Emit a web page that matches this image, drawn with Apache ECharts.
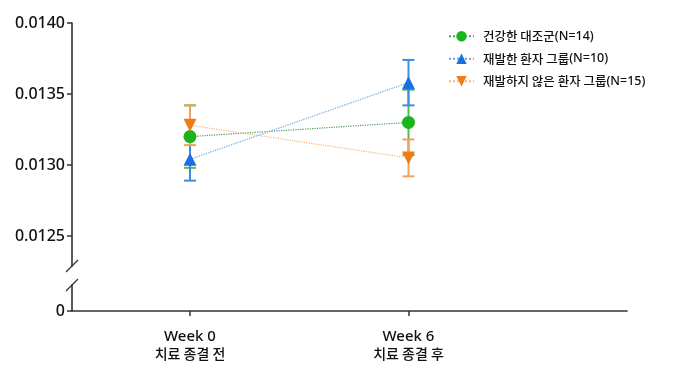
<!DOCTYPE html>
<html>
<head>
<meta charset="utf-8">
<script src="https://cdn.jsdelivr.net/npm/echarts@6/dist/echarts.min.js"></script>
<style>html,body{margin:0;padding:0;background:#fff}#c{width:680px;height:370px}</style>
</head>
<body>
<div id="c"></div>
<script>
// ---- data ----
const weekLabels = ['Week 0', 'Week 6'];
const phaseLabels = ['치료 종결 전', '치료 종결 후'];
const seriesNames = ['건강한 대조군(N=14)', '재발한 환자 그룹(N=10)', '재발하지 않은 환자 그룹(N=15)'];
const healthyMean = [0.01320, 0.01330];
const healthyErr = [0.00022, 0.00023];
const relapseMean = [0.01304, 0.01358];
const relapseErr = [0.00015, 0.00016];
const nonRelapseMean = [0.01328, 0.01305];
const nonRelapseErr = [0.00014, 0.00013];
const yTicksUpper = [0.0125, 0.0130, 0.0135, 0.0140];
const yTicksLower = [0];

// ---- layout / style ----
const FONT = '"Noto Sans", "Noto Sans CJK KR", sans-serif';
const KFONT = '"Noto Sans CJK KR", sans-serif';
const GL = 72, GR = 53;
const TOP_A = 23, BOT_A = 266, TOP_B = 285, BOT_B = 311;
const Y_MAX = 0.0140;
const PX_PER_UNIT = 142000; // px per 1.0 in y (71 px per 0.0005)
const Y_MIN_A = Y_MAX - (BOT_A - TOP_A) / PX_PER_UNIT;
const X_MIN = -0.54, X_MAX = 2.0;
const AXIS_COLOR = '#333';
const TEXT_COLOR = '#111';

const groups = [
  {name: seriesNames[0], mean: healthyMean, err: healthyErr, symbol: 'circle', rot: 0, size: 13,
   mark: '#1cb31c', bar: '#52bd52', line: '#4f9a66'},
  {name: seriesNames[1], mean: relapseMean, err: relapseErr, symbol: 'triangle', rot: 0, size: 13,
   mark: '#1a6fe3', bar: '#3d8ede', line: '#6aa6e0'},
  {name: seriesNames[2], mean: nonRelapseMean, err: nonRelapseErr, symbol: 'triangle', rot: 180, size: 13,
   mark: '#f07c18', bar: '#eba55a', line: '#f0b782'}
];

function renderErr(params, api) {
  const x = api.value(0), m = api.value(1), e = api.value(2);
  const top = api.coord([x, m + e]);
  const bot = api.coord([x, m - e]);
  const hw = 6;
  const color = api.visual('color');
  const st = {stroke: color, lineWidth: 2};
  return {type: 'group', children: [
    {type: 'line', shape: {x1: top[0], y1: top[1], x2: bot[0], y2: bot[1]}, style: st},
    {type: 'line', shape: {x1: top[0] - hw, y1: top[1], x2: top[0] + hw, y2: top[1]}, style: st},
    {type: 'line', shape: {x1: bot[0] - hw, y1: bot[1], x2: bot[0] + hw, y2: bot[1]}, style: st}
  ]};
}

const series = [];
groups.forEach((g, gi) => {
  series.push({
    name: g.name + ' err', type: 'custom', xAxisIndex: 0, yAxisIndex: 0,
    renderItem: renderErr, itemStyle: {color: g.bar}, z: 2 + gi,
    encode: {x: 0, y: 1},
    data: g.mean.map((m, i) => [i, m, g.err[i]])
  });
});
groups.forEach((g, gi) => {
  series.push({
    name: g.name, type: 'line', xAxisIndex: 0, yAxisIndex: 0,
    symbol: g.symbol, symbolRotate: g.rot, symbolSize: g.size,
    itemStyle: {color: g.mark}, lineStyle: {color: g.line, width: 1.2, type: 'dotted'},
    z: 10 + gi,
    data: g.mean.map((m, i) => [i, m])
  });
});

function legendFmt(name) {
  const i = name.indexOf('(');
  return '{k|' + name.slice(0, i) + '}{n|' + name.slice(i) + '}';
}

const chart = echarts.init(document.getElementById('c'), null, {renderer: 'canvas'});
const option = {
  animation: false,
  textStyle: {fontFamily: FONT},
  grid: [
    {left: GL, right: GR, top: TOP_A, height: BOT_A - TOP_A},
    {left: GL, right: GR, top: TOP_B, height: BOT_B - TOP_B}
  ],
  xAxis: [
    {gridIndex: 0, type: 'value', min: X_MIN, max: X_MAX, show: false},
    {gridIndex: 1, type: 'value', min: X_MIN, max: X_MAX,
     axisLine: {show: true, onZero: false, lineStyle: {color: AXIS_COLOR, width: 1.6}},
     axisTick: {show: true, length: 5, customValues: [0, 1], lineStyle: {color: AXIS_COLOR, width: 1.5}},
     splitLine: {show: false},
     axisLabel: {customValues: [0, 1], margin: 17, lineHeight: 17,
       formatter: v => '{a|' + weekLabels[Math.round(v)] + '}\n{b|' + phaseLabels[Math.round(v)] + '}',
       rich: {a: {fontSize: 15, color: TEXT_COLOR, fontFamily: FONT, fontWeight: 500, lineHeight: 17},
              b: {fontSize: 14, color: TEXT_COLOR, fontFamily: KFONT, fontWeight: 500, lineHeight: 17}}}}
  ],
  yAxis: [
    {gridIndex: 0, type: 'value', min: Y_MIN_A, max: Y_MAX,
     axisLine: {show: true, onZero: false, lineStyle: {color: AXIS_COLOR, width: 1.6}},
     axisTick: {show: true, length: 5, customValues: yTicksUpper, lineStyle: {color: AXIS_COLOR, width: 1.5}},
     splitLine: {show: false},
     axisLabel: {customValues: yTicksUpper, margin: 7, fontSize: 16, color: TEXT_COLOR, fontFamily: FONT, fontWeight: 500,
       formatter: v => v.toFixed(4)}},
    {gridIndex: 1, type: 'value', min: 0, max: 1,
     axisLine: {show: true, onZero: false, lineStyle: {color: AXIS_COLOR, width: 1.6}},
     axisTick: {show: true, length: 5, customValues: yTicksLower, lineStyle: {color: AXIS_COLOR, width: 1.5}},
     splitLine: {show: false},
     axisLabel: {customValues: yTicksLower, margin: 7, fontSize: 16, color: TEXT_COLOR, fontFamily: FONT, fontWeight: 500,
       formatter: v => String(v)}}
  ],
  legend: {
    orient: 'vertical', left: 443, top: 25, itemWidth: 25, itemHeight: 13, itemGap: 10,
    data: seriesNames,
    formatter: legendFmt,
    textStyle: {color: TEXT_COLOR, padding: [0, 0, 0, 4],
      rich: {k: {fontSize: 12.5, fontFamily: KFONT, fontWeight: 500, color: TEXT_COLOR},
             n: {fontSize: 12.5, fontFamily: FONT, fontWeight: 500, color: TEXT_COLOR}}}
  },
  graphic: [
    {type: 'line', shape: {x1: GL - 6, y1: BOT_A + 6, x2: GL + 6, y2: BOT_A - 6}, style: {stroke: AXIS_COLOR, lineWidth: 1.3}},
    {type: 'line', shape: {x1: GL - 6, y1: TOP_B + 6, x2: GL + 6, y2: TOP_B - 6}, style: {stroke: AXIS_COLOR, lineWidth: 1.3}}
  ],
  series: series
};
chart.setOption(option);
</script>
</body>
</html>
